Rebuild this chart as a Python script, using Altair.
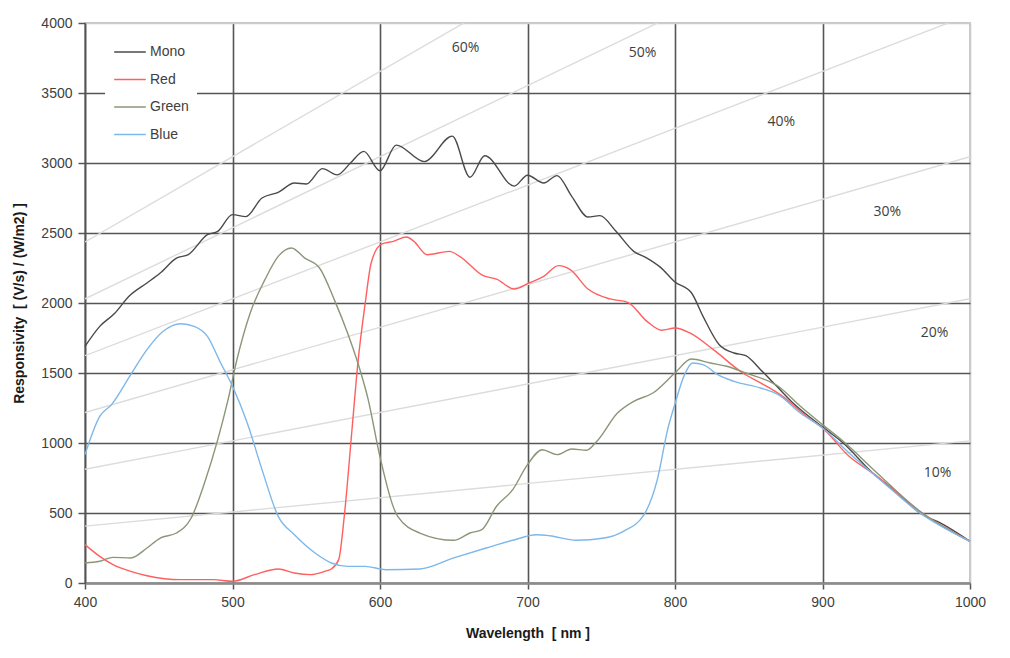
import altair as alt
import pandas as pd

# ---------------- data ----------------
series_names = ["Mono", "Red", "Green", "Blue"]
series_colors = ["#4a4a4a", "#ff5f5f", "#8a9677", "#7db8ea"]

mono_wl = [400, 410, 420, 430, 442, 451, 462, 470, 483, 490, 500, 509, 520, 531, 542, 550,
           561, 571, 580, 589, 600, 611, 630, 649, 661, 671, 691, 700, 711, 720, 730, 741,
           749, 760, 772, 781, 790, 800, 811, 819, 830, 840, 848, 858, 869, 880, 900, 914,
           934, 948, 966, 982, 1000]
mono_r = [1690, 1833, 1925, 2050, 2143, 2214, 2321, 2345, 2488, 2512, 2631, 2617, 2750, 2790,
          2857, 2850, 2960, 2915, 3000, 3083, 2945, 3128, 3010, 3192, 2898, 3052, 2835, 2913,
          2857, 2910, 2762, 2614, 2624, 2512, 2369, 2321, 2256, 2150, 2075, 1905, 1702, 1643,
          1624, 1524, 1405, 1286, 1115, 1000, 786, 667, 500, 417, 298]

red_wl = [400, 410, 419, 431, 442, 465, 487, 500, 515, 531, 542, 553, 563, 567, 572, 576, 581,
          585, 590, 594, 601, 609, 618, 623, 632, 647, 654, 670, 679, 691, 701, 711, 721, 729,
          741, 756, 768, 781, 791, 800, 810, 826, 846, 858, 873, 889, 900, 918, 937, 948, 966,
          1000]
red_r = [274, 190, 131, 83, 52, 24, 24, 12, 60, 100, 71, 60, 85, 100, 167, 500, 1095, 1571,
         2000, 2286, 2420, 2440, 2471, 2440, 2345, 2369, 2333, 2195, 2171, 2100, 2143, 2190,
         2267, 2238, 2100, 2029, 2005, 1869, 1805, 1821, 1786, 1667, 1500, 1429, 1333, 1190,
         1107, 905, 762, 667, 512, 298]

green_wl = [400, 410, 419, 431, 442, 451, 462, 472, 481, 490, 497, 503, 512, 522, 531, 540,
            549, 559, 569, 578, 585, 592, 600, 612, 627, 650, 661, 669, 679, 690, 700, 710,
            720, 730, 740, 747, 761, 772, 785, 800, 811, 824, 835, 848, 870, 885, 900, 914,
            937, 966, 1000]
green_r = [143, 155, 183, 179, 250, 321, 357, 464, 714, 1024, 1310, 1595, 1929, 2167, 2333,
           2393, 2321, 2250, 2024, 1786, 1571, 1310, 900, 476, 357, 305, 357, 381, 548, 667,
           845, 952, 917, 957, 948, 1012, 1214, 1298, 1357, 1500, 1600, 1571, 1548, 1500,
           1405, 1262, 1131, 1012, 786, 512, 298]

blue_wl = [400, 410, 418, 431, 442, 453, 465, 474, 483, 492, 500, 510, 520, 531, 542, 556,
           567, 578, 590, 604, 627, 650, 672, 690, 706, 715, 733, 752, 765, 779, 788, 795,
           800, 806, 812, 819, 829, 840, 858, 870, 885, 900, 918, 939, 966, 1000]
blue_r = [917, 1190, 1274, 1488, 1667, 1798, 1852, 1833, 1762, 1571, 1405, 1143, 810, 476,
          345, 214, 143, 119, 119, 95, 100, 179, 250, 305, 345, 338, 305, 321, 369, 488, 738,
          1095, 1280, 1476, 1571, 1560, 1488, 1440, 1393, 1345, 1214, 1107, 929, 738, 500, 298]

# quantum-efficiency reference lines (R = QE[%] * wavelength * factor)
qe_levels = [10, 20, 30, 40, 50, 60]
qe_factor = 0.1015
wl_range = [400, 1000]
qe_label_text = ["10%", "20%", "30%", "40%", "50%", "60%"]
qe_label_wl = [978, 976, 944, 872, 778, 658]
qe_label_r = [786, 1786, 2650, 3293, 3786, 3821]

# ---------------- tables ----------------
rows = []
for name, wls, rs in [("Mono", mono_wl, mono_r), ("Red", red_wl, red_r),
                      ("Green", green_wl, green_r), ("Blue", blue_wl, blue_r)]:
    for w, r in zip(wls, rs):
        rows.append({"series": name, "wl": w, "r": r})
curves_df = pd.DataFrame(rows)

qe_rows = []
for q in qe_levels:
    for w in wl_range:
        qe_rows.append({"qe": q, "wl": w, "r": q * w * qe_factor})
qe_df = pd.DataFrame(qe_rows)

lab_df = pd.DataFrame({"text": qe_label_text, "wl": qe_label_wl, "r": qe_label_r})

FONT = "Liberation Sans"
NB = "\u00a0"

x_scale = alt.Scale(domain=[400, 1000], nice=False)
y_scale = alt.Scale(domain=[0, 4000], nice=False)

x_axis = alt.Axis(
    values=list(range(400, 1001, 100)), format="d", labelFlush=False,
    title=f"Wavelength{NB}{NB}[ nm ]", titleFont=FONT, titleFontWeight="bold", titleFontSize=14,
    titleColor="#1a1a1a", titlePadding=17,
    labelFont=FONT, labelFontSize=14, labelColor="#404040", labelPadding=6,
    tickSize=6, tickColor="#555555", tickWidth=1.5,
    domainColor="#8c8c8c", domainWidth=2.5,
    grid=True,
    gridColor={"condition": {"test": "datum.value === 1000", "value": "#cccccc"}, "value": "#555555"},
    gridWidth=1.6,
)
y_axis = alt.Axis(
    values=list(range(0, 4001, 500)), format="d", labelFlush=False,
    title=f"Responsivity{NB}{NB}[ (V/s) / (W/m2) ]", titleFont=FONT, titleFontWeight="bold",
    titleFontSize=14, titleColor="#1a1a1a", titlePadding=14,
    labelFont=FONT, labelFontSize=14, labelColor="#404040", labelPadding=6,
    tickSize=7, tickColor="#555555", tickWidth=1.5,
    domainColor="#555555", domainWidth=1.6,
    grid=True,
    gridColor={"condition": {"test": "datum.value === 4000", "value": "#cccccc"}, "value": "#555555"},
    gridWidth=1.6,
)

qe_lines = alt.Chart(qe_df).mark_line(color="#dcdcdc", strokeWidth=1.4, clip=True).encode(
    x=alt.X("wl:Q", scale=x_scale, axis=x_axis),
    y=alt.Y("r:Q", scale=y_scale, axis=y_axis),
    detail="qe:N",
)

qe_text = alt.Chart(lab_df).mark_text(font="Open Sans", fontSize=14, color="#404040").encode(
    x=alt.X("wl:Q", scale=x_scale),
    y=alt.Y("r:Q", scale=y_scale),
    text="text:N",
)

curves = alt.Chart(curves_df).mark_line(strokeWidth=1.4, interpolate="monotone").encode(
    x=alt.X("wl:Q", scale=x_scale),
    y=alt.Y("r:Q", scale=y_scale),
    color=alt.Color(
        "series:N",
        scale=alt.Scale(domain=series_names, range=series_colors),
        sort=series_names,
        legend=alt.Legend(
            title=None, orient="none", legendX=20, legendY=4,
            fillColor="white", padding=8,
            symbolType="stroke", symbolSize=1000, symbolStrokeWidth=1.5,
            labelFont=FONT, labelFontSize=14, labelColor="#404040", labelOffset=3,
            rowPadding=3.5,
        ),
    ),
    order=alt.Order("wl:Q"),
)

chart = alt.layer(qe_lines, qe_text, curves).properties(
    width=885, height=560,
    padding={"left": 77, "top": 15, "right": 20, "bottom": 70},
    autosize=alt.AutoSizeParams(type="none"),
).configure_view(stroke="#c8c8c8", strokeWidth=2)

chart.save("out.html", embed_options={"renderer": "svg", "actions": False})
